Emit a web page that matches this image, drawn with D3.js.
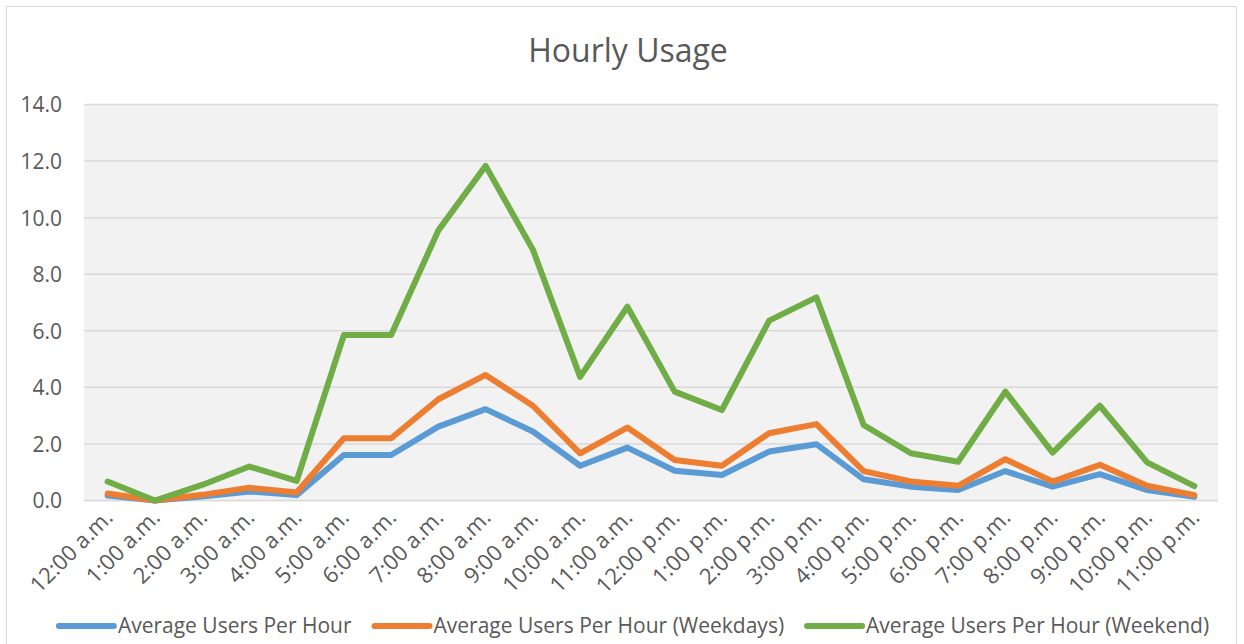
<!DOCTYPE html>
<html>
<head>
<meta charset="utf-8">
<script src="https://cdn.jsdelivr.net/npm/d3@7"></script>
<style>
    body { margin: 0; background: #fff; }
    svg { display: block; font-family: 'Open Sans', sans-serif; }
    .chart__title { font-size: 32px; fill: #595959; }
    .chart__axis text { font-family: 'Open Sans', sans-serif; font-size: 21px; fill: #595959; }
    .chart__axis--x text { font-size: 22px; }
    .chart__axis path, .chart__axis line { display: none; }
    .chart__legend text { font-size: 21px; fill: #595959; }
</style>
</head>
<body>
<svg id="chart"></svg>
<script>
const hours = [
    '12:00 a.m.', '1:00 a.m.', '2:00 a.m.', '3:00 a.m.', '4:00 a.m.', '5:00 a.m.',
    '6:00 a.m.', '7:00 a.m.', '8:00 a.m.', '9:00 a.m.', '10:00 a.m.', '11:00 a.m.',
    '12:00 p.m.', '1:00 p.m.', '2:00 p.m.', '3:00 p.m.', '4:00 p.m.', '5:00 p.m.',
    '6:00 p.m.', '7:00 p.m.', '8:00 p.m.', '9:00 p.m.', '10:00 p.m.', '11:00 p.m.',
]

const usersAll = [0.18, 0, 0.14, 0.32, 0.19, 1.61, 1.61, 2.61, 3.23, 2.44, 1.23, 1.87,
    1.05, 0.90, 1.73, 1.99, 0.75, 0.49, 0.37, 1.04, 0.49, 0.93, 0.37, 0.13]
const usersWeekdays = [0.25, 0, 0.2, 0.45, 0.28, 2.2, 2.2, 3.58, 4.44, 3.35, 1.67, 2.58,
    1.43, 1.23, 2.38, 2.70, 1.04, 0.67, 0.52, 1.46, 0.67, 1.26, 0.52, 0.19]
const usersWeekend = [0.67, 0, 0.55, 1.2, 0.69, 5.85, 5.85, 9.55, 11.83, 8.87, 4.37, 6.85,
    3.85, 3.2, 6.36, 7.18, 2.67, 1.67, 1.37, 3.85, 1.69, 3.35, 1.35, 0.51]

const yTicks = [0, 2, 4, 6, 8, 10, 12, 14]

const series = [
    { name: 'Average Users Per Hour', values: usersAll, color: '#5b9bd5' },
    { name: 'Average Users Per Hour (Weekdays)', values: usersWeekdays, color: '#ed7d31' },
    { name: 'Average Users Per Hour (Weekend)', values: usersWeekend, color: '#70ad47' },
]

const width = 1244
const height = 644
const padding = [104.5, 26, 143.5, 84]   // top, right, bottom, left

const svg = d3.select('#chart')
    .attr('width', width)
    .attr('height', height)
    .attr('viewBox', [0, 0, width, height].join(' '))

// outer chart border
svg.append('rect')
    .attr('x', 6.5)
    .attr('y', 6.5)
    .attr('width', 1230)
    .attr('height', 660)
    .attr('fill', '#fff')
    .attr('stroke', '#d9d9d9')

const leftSide = padding[3]
const rightSide = width - padding[1]
const topSide = padding[0]
const bottomSide = height - padding[2]

const xScale = d3.scaleBand().domain(hours).range([leftSide, rightSide])
const yScale = d3.scaleLinear().domain([0, 14]).range([bottomSide, topSide])

// plot background
svg.append('rect')
    .attr('x', leftSide)
    .attr('y', topSide)
    .attr('width', rightSide - leftSide)
    .attr('height', bottomSide - topSide + 1)
    .attr('fill', '#f2f2f2')

// gridlines
svg.append('g')
    .selectAll('line')
    .data(yTicks)
    .join('line')
    .attr('x1', leftSide)
    .attr('x2', rightSide)
    .attr('y1', d => yScale(d))
    .attr('y2', d => yScale(d))
    .attr('stroke', '#d9d9d9')
    .attr('stroke-width', 1.5)

// title
svg.append('text')
    .classed('chart__title', true)
    .attr('x', 628)
    .attr('y', 62)
    .attr('text-anchor', 'middle')
    .text('Hourly Usage')

// y axis
svg.append('g')
    .classed('chart__axis', true)
    .attr('transform', `translate(${leftSide},0)`)
    .call(d3.axisLeft(yScale).tickValues(yTicks).tickFormat(d3.format('.1f')).tickSize(0).tickPadding(22))
    .selectAll('text')
    .attr('dy', '0.35em')

// x axis
svg.append('g')
    .classed('chart__axis chart__axis--x', true)
    .attr('transform', `translate(0,${bottomSide})`)
    .call(d3.axisBottom(xScale).tickSize(0))
    .selectAll('text')
    .attr('text-anchor', 'end')
    .attr('transform', 'translate(1,13) rotate(-45)')
    .attr('dy', '0.35em')
    .attr('y', 0)

// lines
const line = d3.line()
    .x((d, i) => xScale(hours[i]) + xScale.bandwidth() / 2)
    .y(d => yScale(d))

svg.append('g')
    .selectAll('path')
    .data(series)
    .join('path')
    .attr('d', d => line(d.values))
    .attr('fill', 'none')
    .attr('stroke', d => d.color)
    .attr('stroke-width', 6)
    .attr('stroke-linejoin', 'round')
    .attr('stroke-linecap', 'round')

// legend
const legend = svg.append('g').classed('chart__legend', true)
const items = legend.selectAll('g')
    .data(series)
    .join('g')

items.append('line')
    .attr('x1', 0)
    .attr('x2', 55)
    .attr('y1', 0)
    .attr('y2', 0)
    .attr('stroke', d => d.color)
    .attr('stroke-width', 6)
    .attr('stroke-linecap', 'round')

items.append('text')
    .attr('x', 59)
    .attr('dy', '0.35em')
    .text(d => d.name)

let offset = 0
const positions = []
items.each(function () {
    const w = 59 + d3.select(this).select('text').node().getComputedTextLength()
    positions.push(offset)
    offset += w + 23
})
const legendStart = 634 - (offset - 23) / 2
items.attr('transform', (d, i) => `translate(${legendStart + positions[i]},626)`)
</script>
</body>
</html>
